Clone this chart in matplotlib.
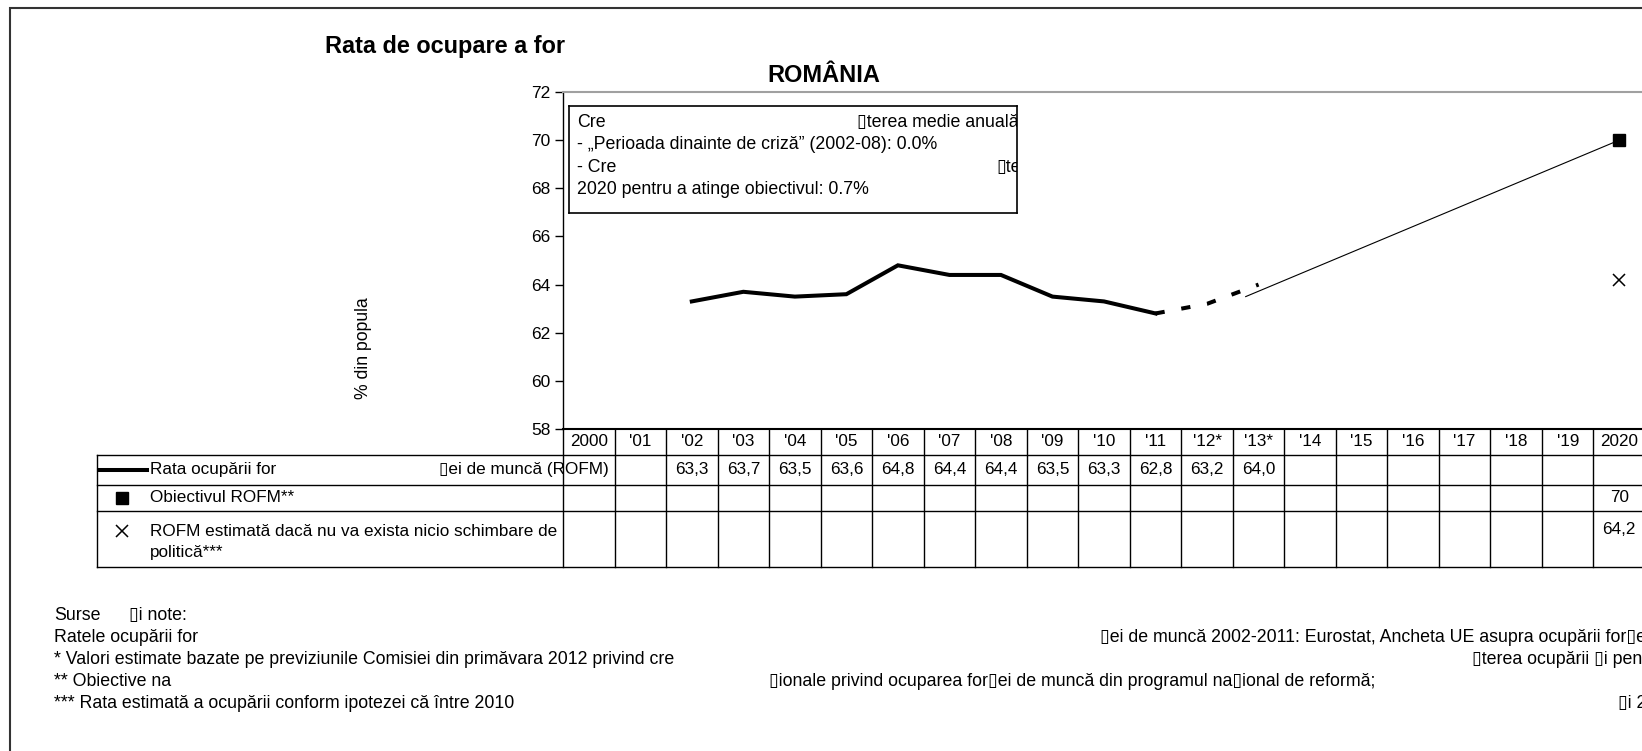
import matplotlib
matplotlib.use('Agg')
import matplotlib.pyplot as plt
from matplotlib.transforms import blended_transform_factory
from matplotlib.lines import Line2D
from matplotlib.patches import Rectangle

plt.rcParams['font.family'] = ['Liberation Sans', 'DejaVu Sans']

# marimea figurii in pixeli (dpi 100)
W, H = 1642, 751
BOX = '\u25af'  # glifa lipsa din original

# date
years = list(range(2000, 2021))
year_labels = ['2000', "'01", "'02", "'03", "'04", "'05", "'06", "'07", "'08", "'09",
               "'10", "'11", "'12*", "'13*", "'14", "'15", "'16", "'17", "'18", "'19", '2020']
rofm_years = [2002, 2003, 2004, 2005, 2006, 2007, 2008, 2009, 2010, 2011]
rofm_vals = [63.3, 63.7, 63.5, 63.6, 64.8, 64.4, 64.4, 63.5, 63.3, 62.8]
est_years = [2011, 2012, 2013]
est_vals = [62.8, 63.2, 64.0]
path_years = [2012.75, 2020]
path_vals = [63.5, 70.0]
target_year = 2020
target_val = 70.0
nochange_val = 64.2

table_years = rofm_years + est_years[1:]
table_vals = rofm_vals + est_vals[1:]

box_lines = [
    ("Cre", BOX + "terea medie anuală", 857),
    ("- „Perioada dinainte de criză” (2002-08): 0.0%", None, None),
    ("- Cre", BOX + "te", 996),
    ("2020 pentru a atinge obiectivul: 0.7%", None, None),
]

notes = [
    ("Surse", BOX + "i note:", 129),
    ("Ratele ocupării for", BOX + "ei de muncă 2002-2011: Eurostat, Ancheta UE asupra ocupării for"
     + BOX + "ei de muncă", 1100),
    ("* Valori estimate bazate pe previziunile Comisiei din primăvara 2012 privind cre",
     BOX + "terea ocupării " + BOX + "i pentru", 1472),
    ("** Obiective na", BOX + "ionale privind ocuparea for" + BOX + "ei de muncă din programul na"
     + BOX + "ional de reformă;", 769),
    ("*** Rata estimată a ocupării conform ipotezei că între 2010", BOX + "i 2020", 1618),
]

FS_TAB = 12.3
FS_BOX = 12.8
FS_NOTE = 12.8


def fx(px):
    return px / W


def fy(py):
    return 1 - py / H


fig = plt.figure(figsize=(W / 100, H / 100), dpi=100)

# chenar exterior
fig.add_artist(Rectangle((fx(10), fy(800)), 1.2, fy(8) - fy(800), fill=False,
                         ec='#333333', lw=1.5, transform=fig.transFigure))

ax = fig.add_axes([fx(563), fy(429), fx(1645) - fx(563), fy(92) - fy(429)])
ax.set_xlim(1999.5, 2020.5)
ax.set_ylim(58, 72)
ax.set_yticks(range(58, 73, 2))
ax.set_xticks([])
ax.tick_params(axis='y', direction='out', length=6, width=1, labelsize=12.5, pad=3)
ax.spines['right'].set_visible(False)
ax.spines['top'].set_color('#a0a0a0')
ax.spines['top'].set_linewidth(1.5)
ax.spines['left'].set_linewidth(1)
ax.spines['bottom'].set_linewidth(1.5)

ax.plot(rofm_years, rofm_vals, color='black', lw=2.9, solid_joinstyle='miter')
ax.plot(est_years, est_vals, color='black', lw=2.9, linestyle=(0, (2.3, 4.2)))
ax.plot(path_years, path_vals, color='black', lw=0.8)
ax.plot([target_year], [target_val], marker='s', color='black', ms=9, ls='none', clip_on=False)
ax.plot([target_year], [nochange_val], marker='x', color='black', ms=9, mew=1.1, ls='none',
        clip_on=False)

fig.text(fx(325), fy(46), 'Rata de ocupare a for', fontsize=16.9, fontweight='bold',
         ha='left', va='center')
fig.text(fx(824), fy(75), 'ROMÂNIA', fontsize=17, fontweight='bold', ha='center', va='center')
fig.text(fx(363), fy(348), '% din popula', fontsize=12.7, rotation=90, ha='center', va='center')

# caseta cu cresterea medie
lb = fig.add_axes([fx(569), fy(213), fx(1017) - fx(569), fy(106) - fy(213)])
lb.set_xticks([])
lb.set_yticks([])
for s in lb.spines.values():
    s.set_linewidth(1.2)
for i, (left, right, rx) in enumerate(box_lines):
    y = fy(122.5 + 22.3 * i)
    lb.text(fx(577), y, left, transform=fig.transFigure, fontsize=FS_BOX, va='center',
            clip_on=True)
    if right:
        lb.text(fx(rx), y, right, transform=fig.transFigure, fontsize=FS_BOX, va='center',
                clip_on=True)

# tabel
tr = blended_transform_factory(ax.transData, fig.transFigure)
for y in [455, 485, 511, 567]:
    fig.add_artist(Line2D([fx(97), 1.0], [fy(y), fy(y)], color='black', lw=1,
                          transform=fig.transFigure))
fig.add_artist(Line2D([fx(97), fx(97)], [fy(455), fy(567)], color='black', lw=1,
                      transform=fig.transFigure))
for yr in years + [2021]:
    fig.add_artist(Line2D([yr - 0.5, yr - 0.5], [fy(429), fy(567)], color='black', lw=1,
                          transform=tr))
for yr, lab in zip(years, year_labels):
    fig.text(yr, fy(442), lab, transform=tr, fontsize=FS_TAB, ha='center', va='center')
for yr, v in zip(table_years, table_vals):
    fig.text(yr, fy(470), f'{v:.1f}'.replace('.', ','), transform=tr, fontsize=FS_TAB,
             ha='center', va='center')
fig.text(target_year, fy(498), f'{target_val:g}', transform=tr, fontsize=FS_TAB,
         ha='center', va='center')
fig.text(target_year, fy(530), f'{nochange_val:.1f}'.replace('.', ','), transform=tr,
         fontsize=FS_TAB, ha='center', va='center')

# legenda din tabel
fig.add_artist(Line2D([fx(99), fx(147)], [fy(470), fy(470)], color='black', lw=2.9,
                      transform=fig.transFigure))
fig.text(fx(150), fy(470), 'Rata ocupării for', fontsize=FS_TAB, va='center')
fig.text(fx(439), fy(470), BOX + 'ei de muncă (ROFM)', fontsize=FS_TAB, va='center')
fig.add_artist(Line2D([fx(122)], [fy(498)], marker='s', color='black', ms=8,
                      transform=fig.transFigure))
fig.text(fx(150), fy(498), 'Obiectivul ROFM**', fontsize=FS_TAB, va='center')
fig.add_artist(Line2D([fx(122)], [fy(531)], marker='x', color='black', ms=9, mew=1.1,
                      transform=fig.transFigure))
fig.text(fx(150), fy(531), 'ROFM estimată dacă nu va exista nicio schimbare de',
         fontsize=FS_TAB, va='center')
fig.text(fx(150), fy(552), 'politică***', fontsize=FS_TAB, va='center')

# surse si note
for i, (left, right, rx) in enumerate(notes):
    y = fy(615 + 22 * i)
    fig.text(fx(54), y, left, fontsize=FS_NOTE, va='center')
    fig.text(fx(rx), y, right, fontsize=FS_NOTE, va='center')

fig.savefig('out.png', dpi=100)
